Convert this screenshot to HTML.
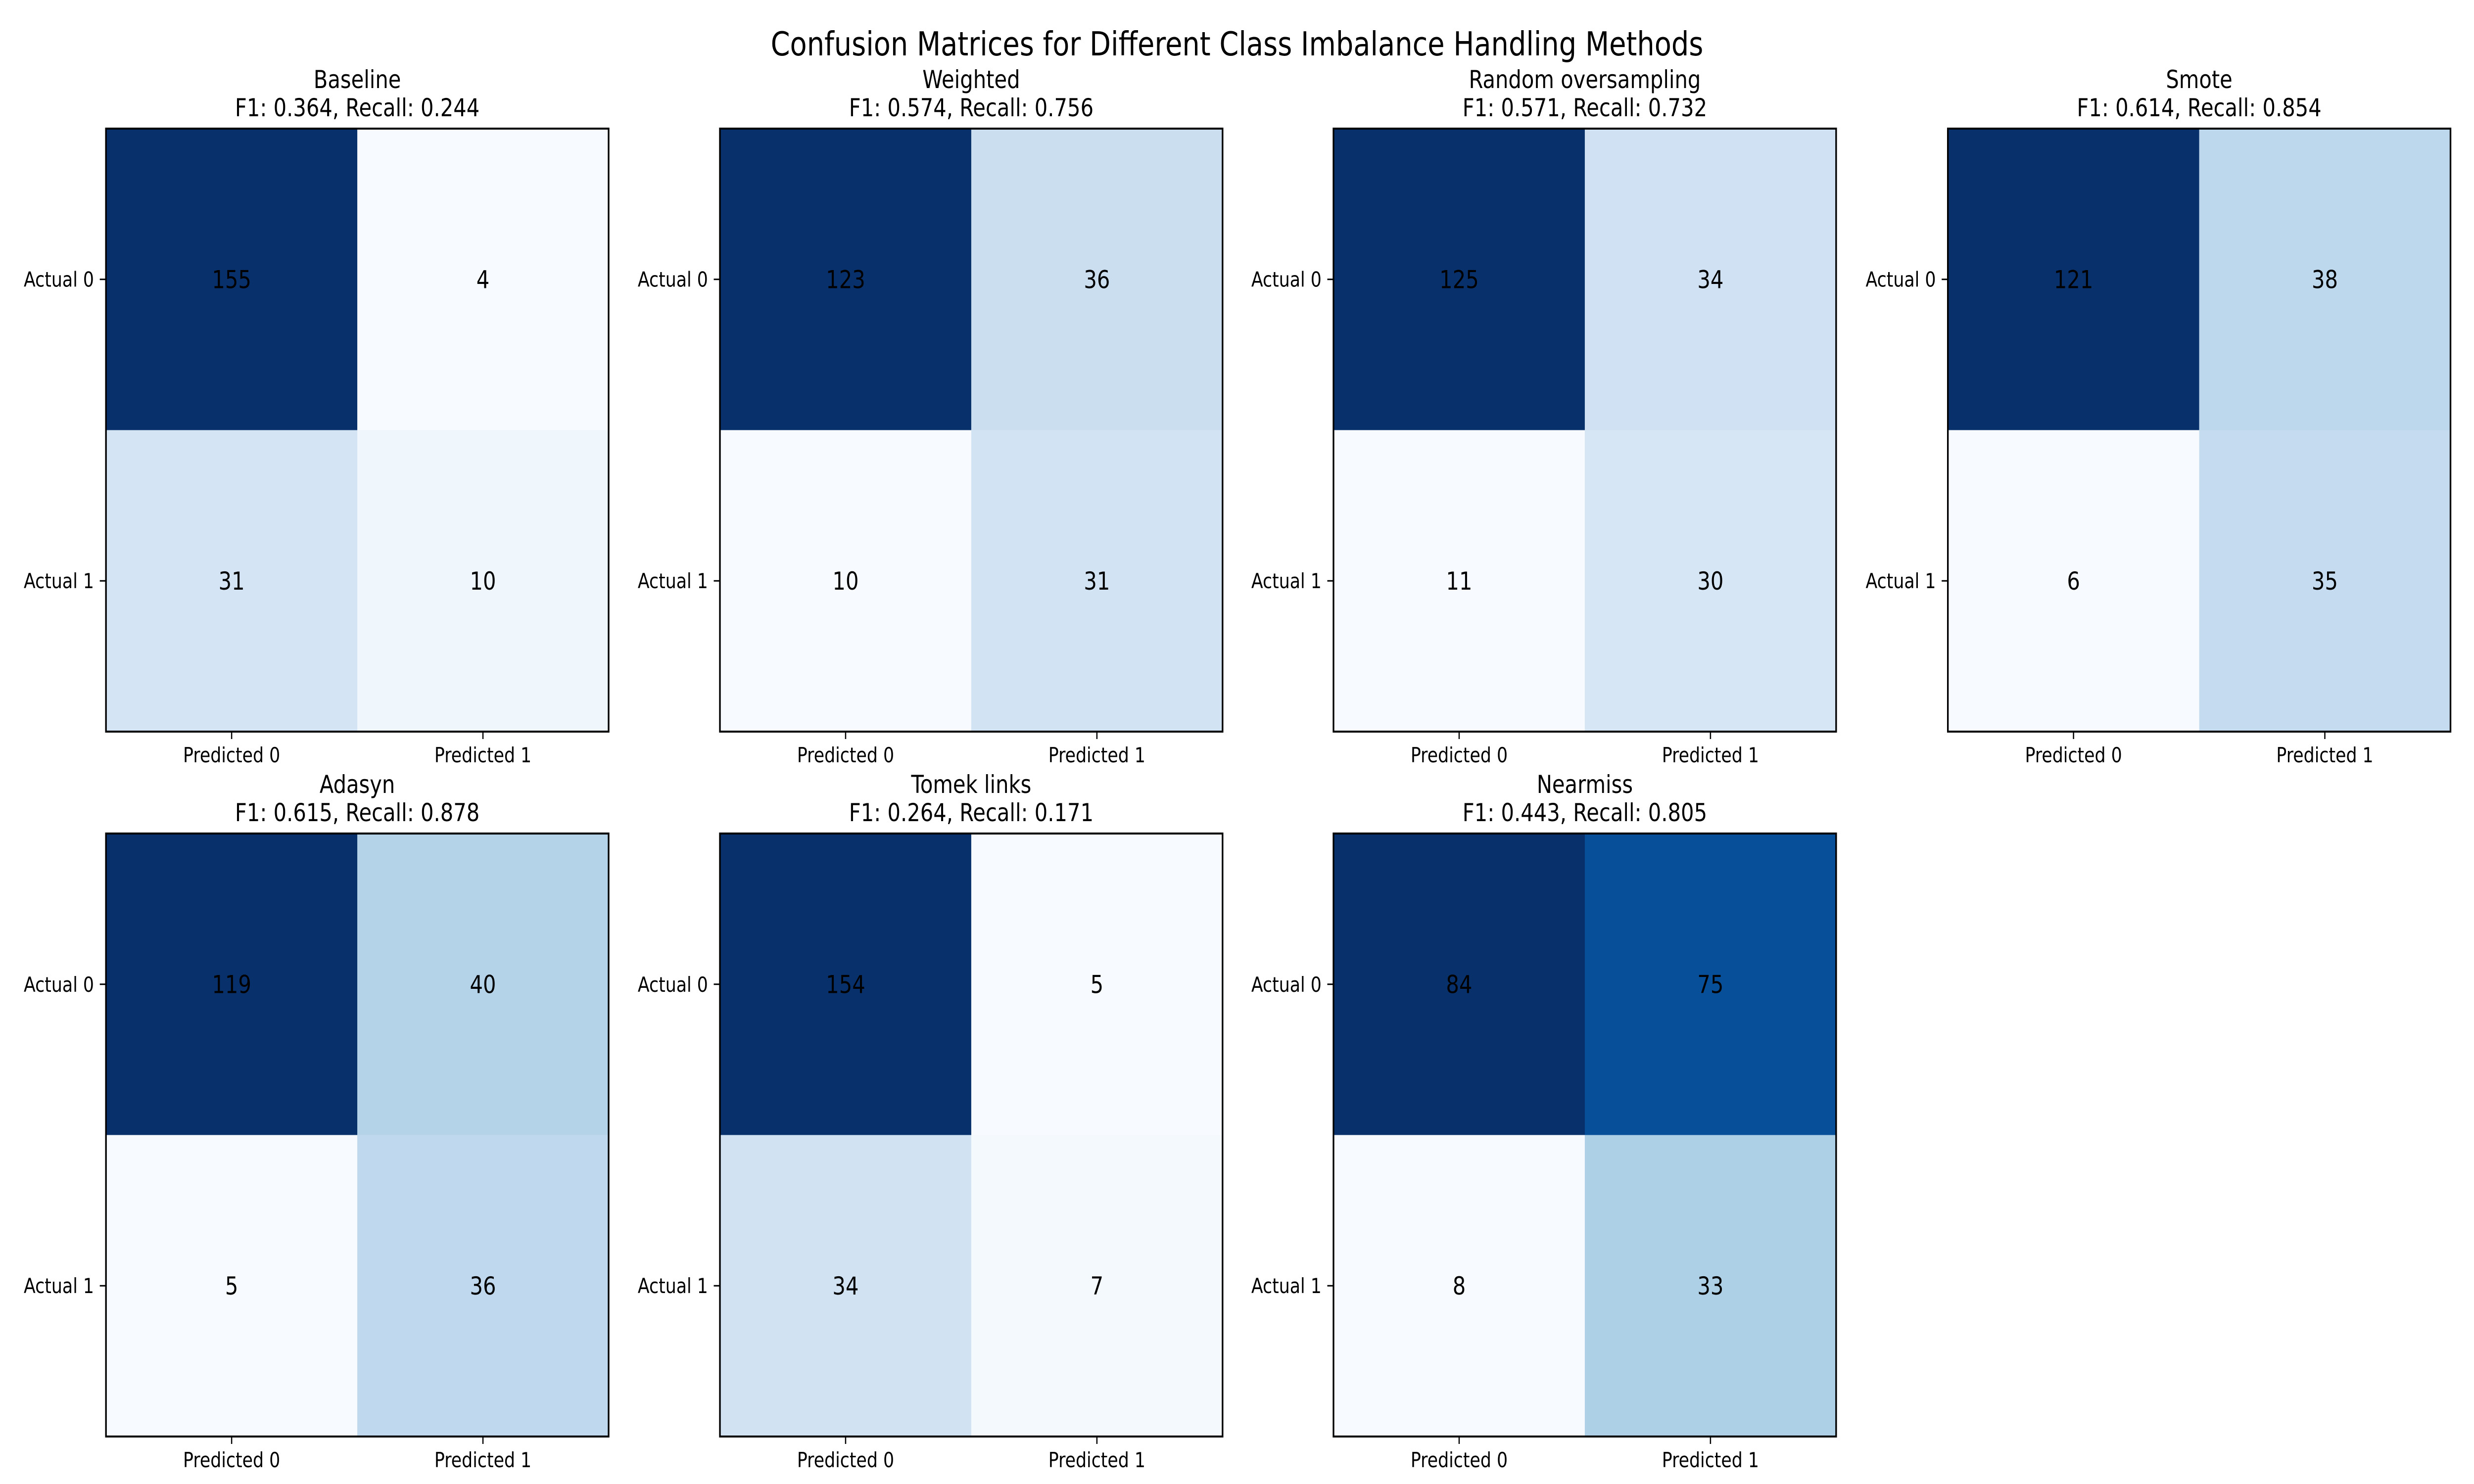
<!DOCTYPE html>
<html><head><meta charset="utf-8">
<style>
html,body{margin:0;padding:0;background:#fff;overflow:hidden;width:100%;height:100%;}
svg{display:block;width:100vw;height:100vh;font-family:"DejaVu Sans","Liberation Sans",sans-serif;}
</style></head>
<body>
<svg id="fig" viewBox="0 0 6000 3000" preserveAspectRatio="none" xmlns="http://www.w3.org/2000/svg">
<rect x="0" y="0" width="6000" height="3000" fill="#fff"/>
<text x="3000" y="112" font-size="67" text-anchor="middle" fill="#000">Confusion Matrices for Different Class Imbalance Handling Methods</text>
</svg>
<script>
const methods = ["Baseline","Weighted","Random oversampling","Smote","Adasyn","Tomek links","Nearmiss"];
const f1Scores = ["0.364","0.574","0.571","0.614","0.615","0.264","0.443"];
const recallScores = ["0.244","0.756","0.732","0.854","0.878","0.171","0.805"];
const tn = [155,123,125,121,119,154,84];
const fp = [4,36,34,38,40,5,75];
const fn = [31,10,11,6,5,34,8];
const tp = [10,31,30,35,36,7,33];
const rowLabels = ["Actual 0","Actual 1"];
const colLabels = ["Predicted 0","Predicted 1"];

const NS = "http://www.w3.org/2000/svg";
const svg = document.getElementById("fig");
const colLeft = [257,1746,3234,4724];
const rowTop = [260,1685];
const AX = 1219;
const blues = ["#f7fbff","#deebf7","#c6dbef","#9ecae1","#6baed6","#4292c6","#2171b5","#08519c","#08306b"];
function hex(h){return [1,3,5].map(i=>parseInt(h.substr(i,2),16));}
function cmap(t){
  t=Math.max(0,Math.min(1,t));
  const p=t*(blues.length-1); const i=Math.min(Math.floor(p),blues.length-2); const f=p-i;
  const a=hex(blues[i]), b=hex(blues[i+1]);
  return "rgb("+a.map((v,k)=>Math.round(v+(b[k]-v)*f)).join(",")+")";
}
function mk(tag, attrs, parent){
  const e=document.createElementNS(NS,tag);
  for(const k in attrs) e.setAttribute(k,attrs[k]);
  (parent||svg).appendChild(e); return e;
}
methods.forEach((m,idx)=>{
  const c=idx%4, r=Math.floor(idx/4);
  const x0=colLeft[c], y0=rowTop[r];
  const g=mk("g",{});
  
  
  const vals=[[tn[idx],fp[idx]],[fn[idx],tp[idx]]];
  const flat=vals.flat(); const mn=Math.min(...flat), mx=Math.max(...flat);
  const cs=AX/2;
  const xs=j=>x0+j*cs, ys=i=>y0+i*cs;
  for(let i=0;i<2;i++)for(let j=0;j<2;j++){
    const v=vals[i][j];
    const rc=mk("rect",{x:xs(j),y:ys(i),width:cs+0.5,height:cs+0.5,fill:cmap((v-mn)/(mx-mn||1))},g);
    
    
    const t=mk("text",{x:xs(j)+cs/2,y:ys(i)+cs/2+18,"font-size":50,"text-anchor":"middle",fill:"#000"},g);
    t.textContent=v;
    
    
  }
  const fr=mk("rect",{x:x0,y:y0,width:AX,height:AX,fill:"none",stroke:"#000","stroke-width":4},g);
  
  
  for(let i=0;i<2;i++){
    const cy=ys(i)+cs/2;
    mk("line",{x1:x0-15,y1:cy,x2:x0,y2:cy,stroke:"#000","stroke-width":3},g);
    const t=mk("text",{x:x0-29,y:cy+15,"font-size":41.7,"text-anchor":"end",fill:"#000"},g);
    t.textContent=rowLabels[i];
    
    
  }
  for(let j=0;j<2;j++){
    const cx=xs(j)+cs/2;
    mk("line",{x1:cx,y1:y0+AX,x2:cx,y2:y0+AX+15,stroke:"#000","stroke-width":3},g);
    const t=mk("text",{x:cx,y:y0+AX+62,"font-size":41.7,"text-anchor":"middle",fill:"#000"},g);
    t.textContent=colLabels[j];
    
    
  }
  const t1=mk("text",{x:x0+AX/2,y:y0-82,"font-size":50,"text-anchor":"middle",fill:"#000"},g);
  t1.textContent=m;
  
  
  const t2=mk("text",{x:x0+AX/2,y:y0-25,"font-size":50,"text-anchor":"middle",fill:"#000"},g);
  t2.textContent="F1: "+f1Scores[idx]+", Recall: "+recallScores[idx];
  
  
});
</script>
</body></html>
